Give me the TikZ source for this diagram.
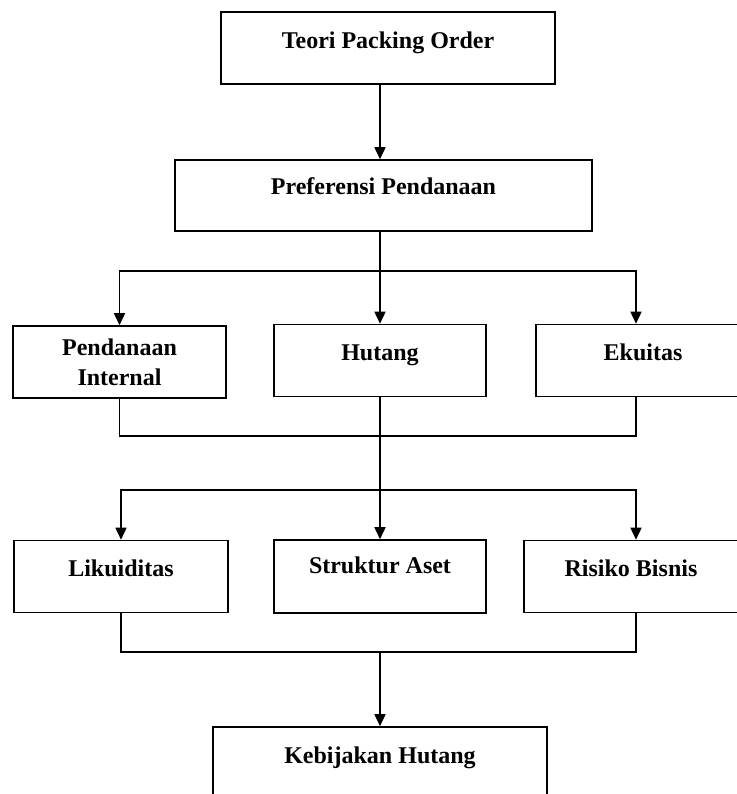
\documentclass[tikz,border=0pt]{standalone}
\usepackage{fontspec}
\setmainfont{Liberation Serif}
\usetikzlibrary{arrows.meta}

\begin{document}
\begin{tikzpicture}[x=0.5pt,y=-0.5pt,
        frame/.style={shape=rectangle,draw=black,line width=0.8pt,inner sep=0pt,font=\fontsize{12}{15}\selectfont\bfseries},
        box/.style={frame,text height=18pt,text depth=18pt},
        arr/.style={-{Triangle[length=6pt,width=5.5pt]},line width=0.8pt},
        ln/.style={line width=0.8pt}]
        \useasboundingbox (0,0) rectangle (737,794);
        \node[box,minimum width=167pt] (TPO) at (388,48) {Teori Packing Order};
        \node[box,minimum width=208.5pt,text height=17pt,text depth=18.5pt] (PP) at (383.5,195.5) {Preferensi Pendanaan};
        \node[frame,minimum width=106.5pt,minimum height=36pt,align=center] (PI) at (119.5,362) {Pendanaan\\Internal};
        \node[box,minimum width=106pt] (H) at (380,360.5) {Hutang};
        \node[box,minimum width=107pt] (E) at (643,360.5) {Ekuitas};
        \node[box,minimum width=107pt] (L) at (121,576.5) {Likuiditas};
        \node[box,minimum width=106pt,text height=16.5pt,text depth=20pt] (SA) at (380,576.5) {Struktur Aset};
        \node[box,minimum width=107pt] (RB) at (631,576.5) {Risiko Bisnis};
        \node[box,minimum width=167pt,text depth=18.5pt] (KH) at (380,763.5) {Kebijakan Hutang};
        \coordinate (S1) at (380,271);
        \coordinate (M1) at (380,436);
        \coordinate (S2) at (380,490);
        \coordinate (M2) at (380,652);
        \draw [arr] (TPO.south -| H) -- (PP.north -| H);
        \draw [ln] (PP.south -| H) -- (S1);
        \draw [arr] (S1) -| (PI.north);
        \draw [arr] (S1) -- (H.north);
        \draw [arr] (S1) -| ([xshift=-3.5pt]E.north);
        \draw [ln] (PI.south) |- (M1) -| ([xshift=-3.5pt]E.south);
        \draw [ln] (H.south) -- (S2);
        \draw [arr] (S2) -| (L.north);
        \draw [arr] (S2) -- (SA.north);
        \draw [arr] (S2) -| ([xshift=2.5pt]RB.north);
        \draw [ln] (L.south) |- (M2) -| ([xshift=2.5pt]RB.south);
        \draw [arr] (M2) -- (KH.north);
    \end{tikzpicture}
\end{document}
